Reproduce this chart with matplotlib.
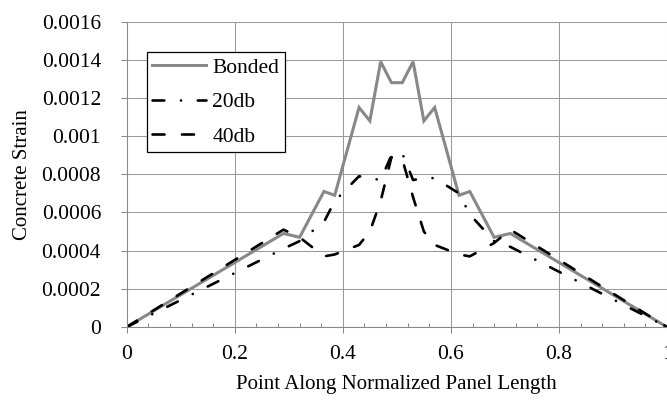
import numpy as np
import matplotlib.pyplot as plt
from matplotlib.ticker import MultipleLocator, FuncFormatter

plt.rcParams['font.family'] = ['Liberation Serif', 'DejaVu Serif']
plt.rcParams['lines.scale_dashes'] = False

# point positions along the panel (normalized) and strains for each case
pos = [0, 0.29, 0.32, 0.365, 0.385, 0.43, 0.45, 0.47, 0.49,
       0.51, 0.53, 0.55, 0.57, 0.615, 0.635, 0.68, 0.71, 1.0]
bonded = [0, 0.00049, 0.00047, 0.00071, 0.00069, 0.00115, 0.00108, 0.00139, 0.00128,
          0.00128, 0.00139, 0.00108, 0.00115, 0.00069, 0.00071, 0.00047, 0.00049, 0]
db20 = [0, 0.00041, 0.00045, 0.00055, 0.00066, 0.00079, 0.00078, 0.00077, 0.0009,
        0.00091, 0.00077, 0.00078, 0.00078, 0.0007, 0.00059, 0.00045, 0.00042, 0]
db40 = [0, 0.00051, 0.00047, 0.00037, 0.00038, 0.00043, 0.0005, 0.00066, 0.00089,
        0.00088, 0.00068, 0.0005, 0.00043, 0.00038, 0.00037, 0.00044, 0.00051, 0]
names = ['Bonded', '20db', '40db']

fs = 15.5
fig = plt.figure(figsize=(6.67, 4.0), dpi=100)
ax = fig.add_axes([0.190, 0.1825, 0.810, 0.7635])

ax.plot(pos, bonded, color='#888888', lw=2.2, label=names[0],
        solid_joinstyle='miter')
ax.plot(pos, db20, color='black', lw=1.9, label=names[1],
        dashes=(8.5, 12.0, 0.1, 12.0), dash_capstyle='round')
ax.plot(pos, db40, color='black', lw=1.9, label=names[2],
        dashes=(8.7, 12.5), dash_capstyle='round')

ax.set_xlim(0, 1)
ax.set_ylim(0, 0.0016)
ax.xaxis.set_major_locator(MultipleLocator(0.2))
ax.xaxis.set_minor_locator(MultipleLocator(0.04))
ax.yaxis.set_major_locator(MultipleLocator(0.0002))
fmt = FuncFormatter(lambda v, p: f'{v:g}')
ax.xaxis.set_major_formatter(fmt)
ax.yaxis.set_major_formatter(fmt)

ax.grid(True, which='major', color='#999999', lw=0.75)
ax.set_axisbelow(True)
for s in ['top', 'right']:
    ax.spines[s].set_visible(False)
for s in ['left', 'bottom']:
    ax.spines[s].set_color('#888888')
    ax.spines[s].set_linewidth(0.75)

ax.tick_params(axis='both', which='major', labelsize=fs, color='#888888',
               width=0.75, length=4.5, direction='out')
ax.tick_params(axis='y', which='major', pad=14)
ax.tick_params(axis='x', which='major', pad=8.5)
ax.tick_params(axis='x', which='minor', color='#888888', width=0.75,
               length=3, direction='in')

ax.set_xlabel('Point Along Normalized Panel Length', fontsize=15, labelpad=8)
ax.set_ylabel('Concrete Strain', fontsize=15, labelpad=7)

leg = ax.legend(loc='upper left', bbox_to_anchor=(0.037, 0.90), fontsize=fs,
                frameon=True, fancybox=False, framealpha=1, edgecolor='black',
                handlelength=2.5, handletextpad=0.3, borderpad=0.25,
                labelspacing=0.68, borderaxespad=0)
leg.get_frame().set_linewidth(0.9)

fig.savefig('out.png', dpi=100)
